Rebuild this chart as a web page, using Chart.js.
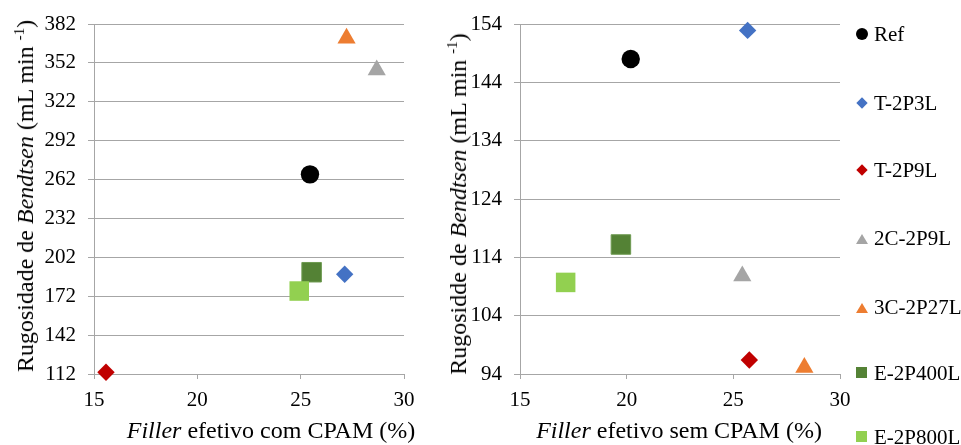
<!DOCTYPE html>
<html>
<head>
<meta charset="utf-8">
<script src="https://cdn.jsdelivr.net/npm/chart.js@4/dist/chart.umd.min.js"></script>
<style>
  body { margin: 0; background: #fff; }
  #wrap { position: relative; width: 961px; height: 445px; overflow: hidden; font-family: "Liberation Serif", serif; color: #000; }
  canvas { position: absolute; top: 0; }
  .ttl { position: absolute; font-size: 24px; line-height: 24px; white-space: nowrap; }
  .ttl sup { font-size: 15px; vertical-align: 9px; line-height: 0; }
  .rot { transform: translate(-50%, -50%) rotate(-90deg); }
  .hor { transform: translate(-50%, -50%); }
  .leg { position: absolute; left: 856px; height: 24px; font-size: 21px; line-height: 24px; white-space: nowrap; }
  .leg .mk { position: absolute; left: 0; top: 6px; width: 12px; height: 12px; }
  .leg span.t { position: absolute; left: 18px; top: 0; }
</style>
</head>
<body>
<div id="wrap">
  <canvas id="chartCom" width="420" height="445" style="left:0;width:420px;height:445px"></canvas>
  <canvas id="chartSem" width="440" height="445" style="left:420px;width:440px;height:445px"></canvas>

  <div class="ttl rot" style="left:25px;top:196px">Rugosidade de <i>Bendtsen</i> (mL min <sup>-1</sup>)</div>
  <div class="ttl hor" style="left:271px;top:430px"><i>Filler</i> efetivo com CPAM (%)</div>
  <div class="ttl rot" style="left:458px;top:204px">Rugosidde de <i>Bendtsen</i> (mL min <sup>-1</sup>)</div>
  <div class="ttl hor" style="left:679px;top:430px"><i>Filler</i> efetivo sem CPAM (%)</div>

  <div id="legend"></div>
</div>
<script>
// series
const seriesNames = ['Ref', 'T-2P3L', 'T-2P9L', '2C-2P9L', '3C-2P27L', 'E-2P400L', 'E-2P800L'];
const seriesColors = ['#000000', '#4472C4', '#C00000', '#A5A5A5', '#ED7D31', '#548235', '#92D050'];
const seriesShapes = ['circle', 'rectRot', 'rectRot', 'triangle', 'triangle', 'rect', 'rect'];

// left chart: filler efetivo com CPAM
const fillerCom = [25.45, 27.13, 15.58, 28.68, 27.22, 25.53, 24.93];
const rugosCom = [266, 189, 113.3, 346.5, 371, 190.5, 176];

// right chart: filler efetivo sem CPAM
const fillerSem = [20.19, 25.67, 25.75, 25.42, 28.33, 19.73, 17.14];
const rugosSem = [148, 152.9, 96.4, 110.8, 95.1, 116.2, 109.7];

// axes
const xMin = 15, xMax = 30, xStep = 5;
const yComMin = 112, yComMax = 382, yComStep = 30;
const ySemMin = 94, ySemMax = 154, ySemStep = 10;

const gridGray = '#A6A6A6';
const tickFont = { family: 'Liberation Serif', size: 21 };
const markerSize = { circle: 9.2, rectRot: 8.7, triangle: 10.5, rect: 13.8 };

function makeDatasets(xs, ys) {
  return seriesNames.map((name, i) => ({
    label: name,
    data: [{ x: xs[i], y: ys[i] }],
    pointStyle: seriesShapes[i],
    pointRadius: markerSize[seriesShapes[i]],
    backgroundColor: seriesColors[i],
    borderColor: i === 5 ? '#6F9B52' : seriesColors[i],
    borderWidth: i === 5 ? 1 : 0,
    order: -i,
    clip: false
  }));
}

// keep the plot area fixed: no extra room for overhanging tick labels
function fixX(s) { s.height = 71; s.paddingLeft = 0; s.paddingRight = 0; }
function fixY(s) { s.width = 50; s.paddingTop = 0; s.paddingBottom = 0; }

function makeChart(id, xs, ys, yMin, yMax, yStep, padLeft, padRight) {
  return new Chart(document.getElementById(id), {
    type: 'scatter',
    data: { datasets: makeDatasets(xs, ys) },
    options: {
      responsive: false,
      animation: false,
      layout: { padding: { left: padLeft, right: padRight, top: 24, bottom: 0 } },
      plugins: { legend: { display: false }, tooltip: { enabled: false } },
      scales: {
        x: {
          type: 'linear', min: xMin, max: xMax,
          ticks: { stepSize: xStep, color: '#000', font: tickFont, padding: 9, maxRotation: 0 },
          grid: { drawOnChartArea: false, color: gridGray, tickLength: 5 },
          border: { color: gridGray },
          afterFit: fixX
        },
        y: {
          type: 'linear', min: yMin, max: yMax,
          ticks: { stepSize: yStep, color: '#000', font: tickFont, padding: 12 },
          grid: { color: gridGray, tickLength: 6 },
          border: { color: gridGray },
          afterFit: fixY
        }
      }
    }
  });
}

makeChart('chartCom', fillerCom, rugosCom, yComMin, yComMax, yComStep, 44, 16);
makeChart('chartSem', fillerSem, rugosSem, ySemMin, ySemMax, ySemStep, 50, 20);

// legend shared by both charts
const legendTops = [22, 91, 158, 226, 295, 361, 425];
const legend = document.getElementById('legend');
seriesNames.forEach((name, i) => {
  const row = document.createElement('div');
  row.className = 'leg';
  row.style.top = legendTops[i] + 'px';
  const mk = document.createElement('div');
  mk.className = 'mk';
  const c = seriesColors[i];
  if (seriesShapes[i] === 'circle') {
    mk.style.cssText += 'background:' + c + ';border-radius:50%;';
  } else if (seriesShapes[i] === 'rectRot') {
    mk.style.cssText += 'background:' + c + ';width:8px;height:8px;left:2px;top:8px;transform:rotate(45deg);';
  } else if (seriesShapes[i] === 'triangle') {
    mk.style.cssText += 'width:0;height:0;top:8px;border-left:6px solid transparent;border-right:6px solid transparent;border-bottom:10px solid ' + c + ';';
  } else {
    mk.style.cssText += 'background:' + c + ';width:11px;height:11px;';
  }
  const t = document.createElement('span');
  t.className = 't';
  t.textContent = name;
  row.appendChild(mk);
  row.appendChild(t);
  legend.appendChild(row);
});
</script>
</body>
</html>
